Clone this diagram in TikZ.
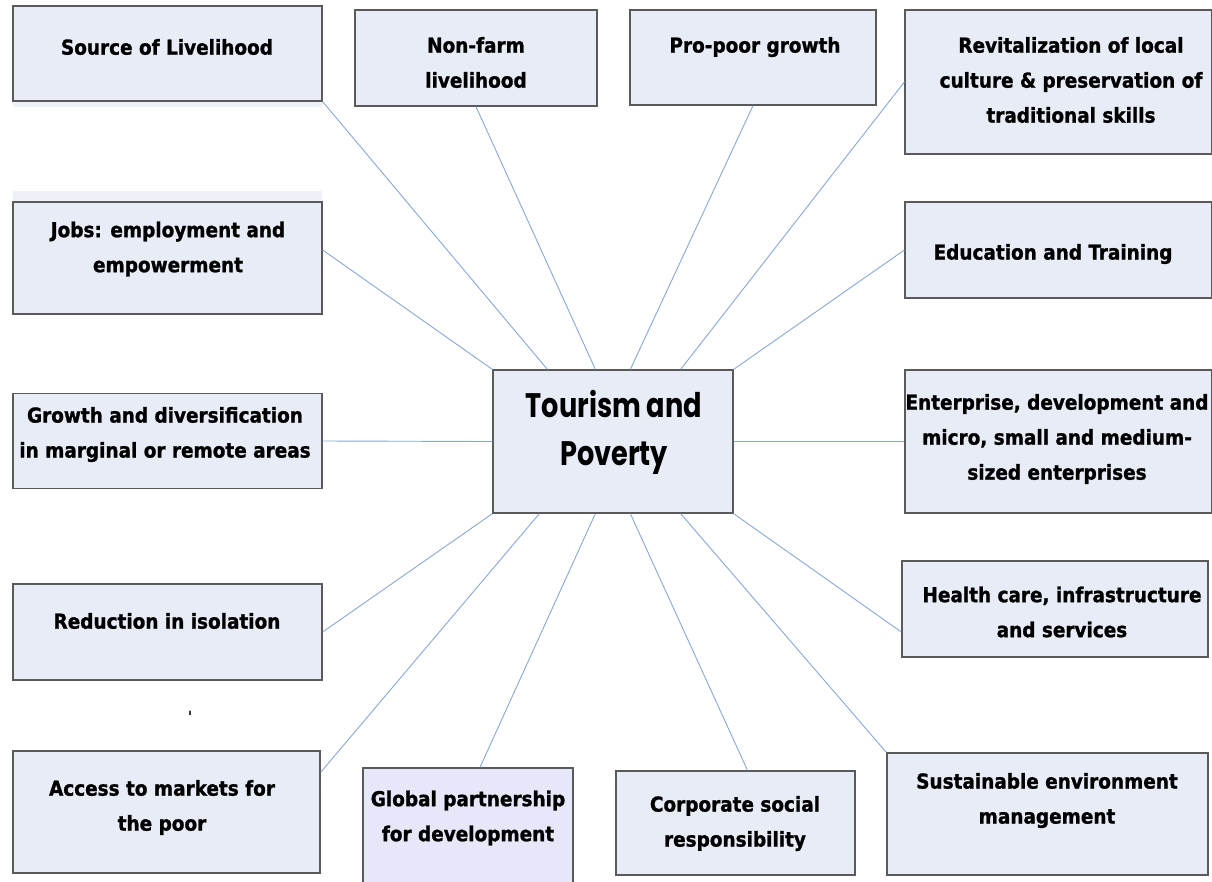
\documentclass[tikz,border=0pt]{standalone}
\usepackage{fontspec}
\usepackage{graphicx}
\usetikzlibrary{calc}
\newfontfamily\boxfont[FakeBold=1.2]{DejaVu Sans Condensed Bold}
\newfontfamily\ctrfont{Poppins}
\definecolor{boxfill}{HTML}{E8ECF6}
\definecolor{lavfill}{HTML}{E7E7FA}
\definecolor{boxline}{HTML}{5A5A5A}
\definecolor{conncol}{HTML}{86A8DA}
\definecolor{band}{HTML}{EEF1F8}
\tikzset{
  box/.style={draw=boxline, fill=boxfill, line width=1.3pt, rectangle, inner sep=0pt},
  lbl/.style={align=center, inner sep=0pt, font=\boxfont\fontsize{20.5}{35}\selectfont},
  conn/.style={draw=conncol, line width=0.9pt}
}
\begin{document}
\begin{tikzpicture}[x=1pt,y=-1pt]
\useasboundingbox (0,0) rectangle (1212,881);
\fill[white] (0,0) rectangle (1212,881);
% faint bands
\fill[band] (13,101) rectangle (322,107);
\fill[band] (13,191) rectangle (322,202);
% boxes
\node[box, minimum width=309pt, minimum height=95pt] (src) at (167.5,53.5) {};
\node[box, minimum width=242pt, minimum height=96pt] (nf) at (476,58) {};
\node[box, minimum width=246pt, minimum height=95pt] (pp) at (753,57.5) {};
\node[box, minimum width=307pt, minimum height=144pt] (rev) at (1058.5,82) {};
\node[box, minimum width=307pt, minimum height=96pt] (edu) at (1058.5,250) {};
\node[box, minimum width=309pt, minimum height=112pt] (jobs) at (167.5,258) {};
\node[box, minimum width=309pt, minimum height=95pt] (grow) at (167.5,441) {};
\node[box, minimum width=309pt, minimum height=96pt] (red) at (167.5,632) {};
\node[box, minimum width=307pt, minimum height=122pt] (acc) at (166.5,812) {};
\node[box, fill=lavfill, minimum width=210pt, minimum height=116pt] (glob) at (468,826) {};
\node[box, minimum width=239pt, minimum height=104pt] (corp) at (735.5,823) {};
\node[box, minimum width=321pt, minimum height=122pt] (sus) at (1047.5,814) {};
\node[box, minimum width=306pt, minimum height=96pt] (hc) at (1055,609) {};
\node[box, minimum width=307pt, minimum height=143pt] (ent) at (1058.5,441.5) {};
\node[box, minimum width=240pt, minimum height=143pt] (ctr) at (613,441.5) {};
% labels
\node[lbl] (srcT) at (167,47) {Source of Livelihood};
\node[lbl] (nfT) at (476,62.5) {Non-farm\\livelihood};
\node[lbl] (ppT) at (755,47) {Pro-poor growth};
\node[lbl] (revT) at (1071,80) {Revitalization of local\\culture \& preservation of\\traditional skills};
\node[lbl] (eduT) at (1053,254) {Education and Training};
\node[lbl] (jobsT) at (168,249) {Jobs: employment and\\empowerment};
\node[lbl] (growT) at (165,434.5) {Growth and diversification\\in marginal or remote areas};
\node[lbl] (redT) at (167,621) {Reduction in isolation};
\node[lbl] (accT) at (162,807.5) {Access to markets for\\the poor};
\node[lbl] (globT) at (468,818) {Global partnership\\for development};
\node[lbl] (corpT) at (735,823.5) {Corporate social\\responsibility};
\node[lbl] (susT) at (1047,800.5) {Sustainable environment\\management};
\node[lbl] (hcT) at (1062,612) {Health care, infrastructure\\and services};
\node[lbl] (entT) at (1057,439) {Enterprise, development and\\micro, small and medium-\\sized enterprises};
\node[align=center, inner sep=0pt, font=\ctrfont\bfseries\fontsize{34}{48}\selectfont] (ctrT) at (614,432)
  {\scalebox{0.8}[1]{Tourism and}\\\scalebox{0.8}[1]{Poverty}};
\node[inner sep=0pt, font=\boxfont\fontsize{14}{14}\selectfont] (tick) at (190,716) {'};
% connectors
\draw[conn] (src.south east) -- ([xshift=55pt]ctr.north west);
\draw[conn] (nf.south) -- ([xshift=103pt]ctr.north west);
\draw[conn] (pp.south) -- ([xshift=138pt]ctr.north west);
\draw[conn] (rev.west) -- ([xshift=-53pt]ctr.north east);
\draw[conn] (edu.west) -- (ctr.north east);
\draw[conn] ([yshift=8pt]jobs.east) -- (ctr.north west);
\draw[conn] (grow.east) -- (ctr.west);
\draw[conn] (ctr.east) -- (ent.west);
\draw[conn] (red.east) -- (ctr.south west);
\draw[conn] ([yshift=-22pt]acc.north east) -- ([xshift=47pt]ctr.south west);
\draw[conn] ([xshift=12pt]glob.north) -- ([xshift=103pt]ctr.south west);
\draw[conn] ([xshift=12pt]corp.north) -- ([xshift=138pt]ctr.south west);
\draw[conn] (sus.north west) -- ([xshift=-53pt]ctr.south east);
\draw[conn] ([yshift=-23pt]hc.west) -- (ctr.south east);
\end{tikzpicture}
\end{document}
